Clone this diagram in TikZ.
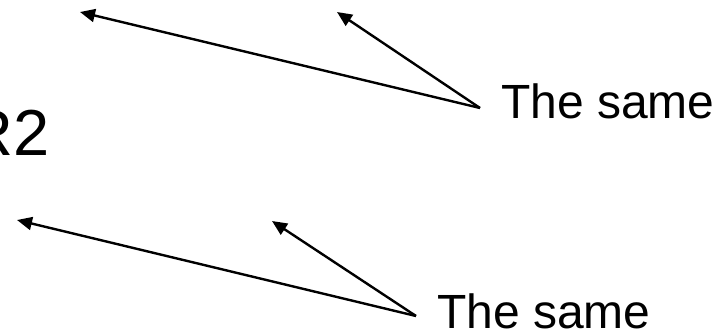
\documentclass[tikz,border=0pt]{standalone}
\usepackage{fontspec}
\setmainfont{Liberation Sans}
\usetikzlibrary{arrows.meta}
\begin{document}
\begin{tikzpicture}[x=1pt,y=-1pt,
  lbl/.style={inner sep=0pt,font=\fontsize{48}{54}\selectfont},
  big/.style={inner sep=0pt,font=\fontsize{65}{72}\selectfont},
  ptr/.style={line width=2.4pt,-{Triangle[length=15pt,width=13pt]}}]
\useasboundingbox (0,0) rectangle (721,332);
\clip (0,0) rectangle (721,332);
\fill[white] (0,0) rectangle (721,332);
\node[big,anchor=base east] (r2) at (50,155) {R2};
\node[lbl,anchor=base west] (same1) at (501,118) {The same};
\node[lbl,anchor=base west] (same2) at (437,328) {The same};
\coordinate (c1) at (480,108);
\coordinate (c2) at (416,316);
\coordinate (t1) at (80,12);
\coordinate (t2) at (337,12);
\coordinate (t3) at (17,220);
\coordinate (t4) at (272,221);
\draw[ptr] (c1) -- (t1);
\draw[ptr] (c1) -- (t2);
\draw[ptr] (c2) -- (t3);
\draw[ptr] (c2) -- (t4);
\end{tikzpicture}
\end{document}
